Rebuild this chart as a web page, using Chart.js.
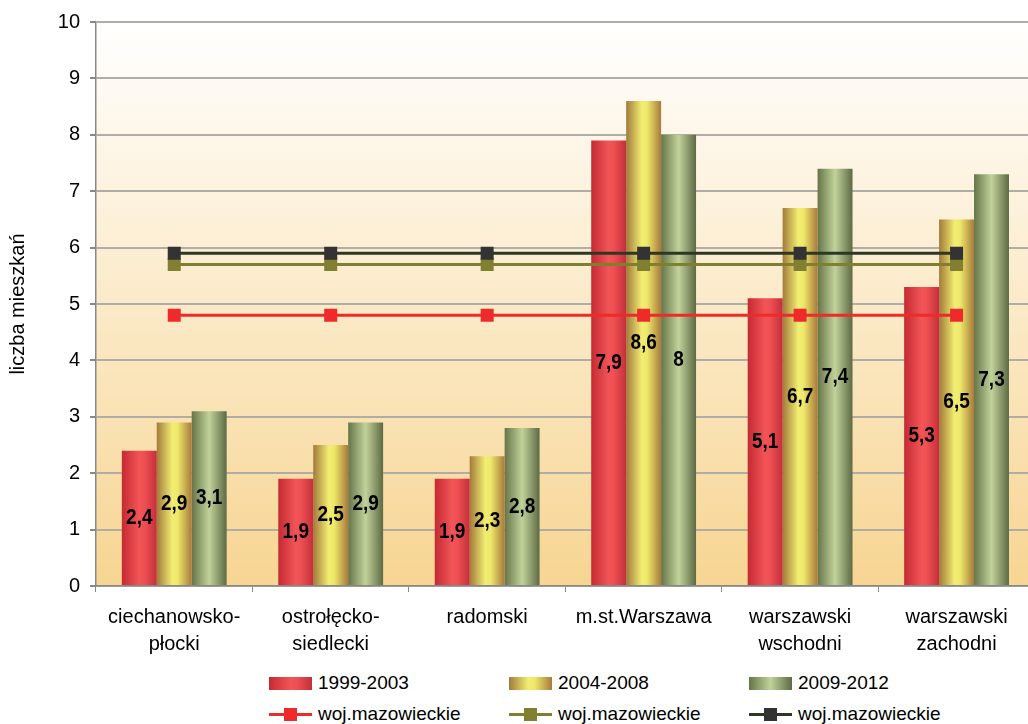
<!DOCTYPE html>
<html lang="pl">
<head>
    <meta charset="UTF-8">
    <title>liczba mieszkań</title>
    <script src="https://cdn.jsdelivr.net/npm/chart.js@4.4.1/dist/chart.umd.min.js"></script>
    <style>
        html, body { margin: 0; padding: 0; background: #fff; overflow: hidden; width: 1028px; height: 724px; }
        #wrap { position: absolute; left: 0; top: 0; }
        .leg { position: absolute; display: flex; align-items: center; font: 19px "Liberation Sans", Arial, sans-serif; color: #000; height: 20px; }
        .sw { width: 43px; height: 13px; margin-right: 6px; }
        .ln { position: relative; width: 43px; height: 13px; margin-right: 6px; }
        .ln .bar { position: absolute; left: 0; right: 0; top: 5px; height: 3px; }
        .ln .sq { position: absolute; left: 15px; top: 0; width: 13px; height: 13px; }
    </style>
</head>
<body>
    <div id="wrap"><canvas id="chart" width="1044" height="668"></canvas></div>

    <div class="leg" style="left:269px; top:673px;"><div class="sw" style="background:linear-gradient(90deg,#c42a33,#f25557 50%,#ee4f52 65%,#c3303a)"></div>1999-2003</div>
    <div class="leg" style="left:509px; top:673px;"><div class="sw" style="background:linear-gradient(90deg,#a27a3a,#f2ee72 45%,#eee86a 60%,#a87a3c)"></div>2004-2008</div>
    <div class="leg" style="left:749px; top:673px;"><div class="sw" style="background:linear-gradient(90deg,#657548,#c2d29a 50%,#5d6a44)"></div>2009-2012</div>
    <div class="leg" style="left:269px; top:704px;"><div class="ln"><div class="bar" style="background:#ee2a2a"></div><div class="sq" style="background:#ee2a2a"></div></div>woj.mazowieckie</div>
    <div class="leg" style="left:509px; top:704px;"><div class="ln"><div class="bar" style="background:#7f7f30"></div><div class="sq" style="background:#808030"></div></div>woj.mazowieckie</div>
    <div class="leg" style="left:749px; top:704px;"><div class="ln"><div class="bar" style="background:#2e3626"></div><div class="sq" style="background:#333333"></div></div>woj.mazowieckie</div>

    <script>
        const categories = [
            ['ciechanowsko-', 'płocki'],
            ['ostrołęcko-', 'siedlecki'],
            'radomski',
            'm.st.Warszawa',
            ['warszawski', 'wschodni'],
            ['warszawski', 'zachodni']
        ];
        const values1999 = [2.4, 1.9, 1.9, 7.9, 5.1, 5.3];
        const values2004 = [2.9, 2.5, 2.3, 8.6, 6.7, 6.5];
        const values2009 = [3.1, 2.9, 2.8, 8.0, 7.4, 7.3];
        const woj1999 = [4.8, 4.8, 4.8, 4.8, 4.8, 4.8];
        const woj2004 = [5.7, 5.7, 5.7, 5.7, 5.7, 5.7];
        const woj2009 = [5.9, 5.9, 5.9, 5.9, 5.9, 5.9];
        const yTicks = [0, 1, 2, 3, 4, 5, 6, 7, 8, 9, 10];

        const FONT = '"Liberation Sans", Arial, sans-serif';
        const CAT_PCT = 0.67;

        const redStops = [[0, '#c42a33'], [0.5, '#f25557'], [0.65, '#ee4f52'], [1, '#c3303a']];
        const yellowStops = [[0, '#a27a3a'], [0.45, '#f2ee72'], [0.6, '#eee86a'], [1, '#a87a3c']];
        const greenStops = [[0, '#657548'], [0.5, '#c2d29a'], [1, '#5d6a44']];

        // horizontal gradient across each bar (cylinder look)
        function barFill(stops) {
            return function (ctx) {
                const chart = ctx.chart;
                const xs = chart.scales.x;
                if (!chart.chartArea || !xs || ctx.type !== 'data') return stops[1][1];
                const bw = xs.width / categories.length * CAT_PCT / 3;
                const cx = xs.getPixelForValue(ctx.dataIndex) + (ctx.datasetIndex - 1) * bw;
                const g = chart.ctx.createLinearGradient(cx - bw / 2, 0, cx + bw / 2, 0);
                stops.forEach(s => g.addColorStop(s[0], s[1]));
                return g;
            };
        }

        const plotBackground = {
            id: 'plotBackground',
            beforeDraw(chart) {
                const a = chart.chartArea;
                const c = chart.ctx;
                const g = c.createLinearGradient(0, a.top, 0, a.bottom);
                g.addColorStop(0, '#ffffff');
                g.addColorStop(1, '#f7d592');
                c.save();
                c.fillStyle = g;
                c.fillRect(a.left, a.top, a.right - a.left, a.bottom - a.top);
                c.restore();
            }
        };

        // value labels in the middle of each bar, slightly tall like the original
        const barLabels = {
            id: 'barLabels',
            afterDatasetsDraw(chart) {
                const c = chart.ctx;
                chart.data.datasets.forEach((ds, i) => {
                    if (ds.type === 'line') return;
                    chart.getDatasetMeta(i).data.forEach((bar, j) => {
                        c.save();
                        c.translate(bar.x, (bar.y + bar.base) / 2);
                        c.scale(1, 1.15);
                        c.font = 'bold 19px ' + FONT;
                        c.fillStyle = '#000';
                        c.textAlign = 'center';
                        c.textBaseline = 'middle';
                        c.fillText(String(ds.data[j]).replace('.', ','), 0, 0);
                        c.restore();
                    });
                });
            }
        };

        function lineSet(data, lineColor, pointColor, order) {
            return {
                type: 'line',
                label: 'woj.mazowieckie',
                data: data,
                borderColor: lineColor,
                borderWidth: 3,
                backgroundColor: pointColor,
                pointStyle: 'rect',
                pointRadius: 9.2,
                pointBorderWidth: 0,
                pointBackgroundColor: pointColor,
                order: order
            };
        }

        new Chart(document.getElementById('chart'), {
            type: 'bar',
            data: {
                labels: categories,
                datasets: [
                    { label: '1999-2003', data: values1999, backgroundColor: barFill(redStops), order: 10 },
                    { label: '2004-2008', data: values2004, backgroundColor: barFill(yellowStops), order: 10 },
                    { label: '2009-2012', data: values2009, backgroundColor: barFill(greenStops), order: 10 },
                    lineSet(woj1999, '#ee2a2a', '#ee2a2a', 3),
                    lineSet(woj2004, '#7f7f30', '#808030', 2),
                    lineSet(woj2009, '#2e3626', '#333333', 1)
                ]
            },
            options: {
                responsive: false,
                animation: false,
                datasets: { bar: { barPercentage: 1, categoryPercentage: CAT_PCT } },
                layout: { padding: { top: 18, right: 4, left: 0, bottom: 0 } },
                plugins: { legend: { display: false }, tooltip: { enabled: false } },
                scales: {
                    x: {
                        afterFit(scale) { scale.height = 82; },
                        grid: { offset: true, drawOnChartArea: false, drawTicks: true, tickLength: 6, color: '#888888' },
                        border: { color: '#888888', width: 1.5 },
                        ticks: { color: '#000', padding: 12, font: { family: FONT, size: 20, lineHeight: 1.35 } }
                    },
                    y: {
                        min: 0,
                        max: 10,
                        afterFit(scale) { scale.width = 96; },
                        afterBuildTicks(scale) { scale.ticks = yTicks.map(v => ({ value: v })); },
                        grid: { color: '#b0ada6', lineWidth: 2, tickLength: 6, tickColor: '#888888' },
                        border: { color: '#888888', width: 1.5 },
                        ticks: { color: '#000', padding: 10, font: { family: FONT, size: 20 } },
                        title: {
                            display: true,
                            text: 'liczba mieszkań',
                            color: '#000',
                            padding: { top: 6, bottom: 0 },
                            font: { family: FONT, size: 20 }
                        }
                    }
                }
            },
            plugins: [plotBackground, barLabels]
        });
    </script>
</body>
</html>
